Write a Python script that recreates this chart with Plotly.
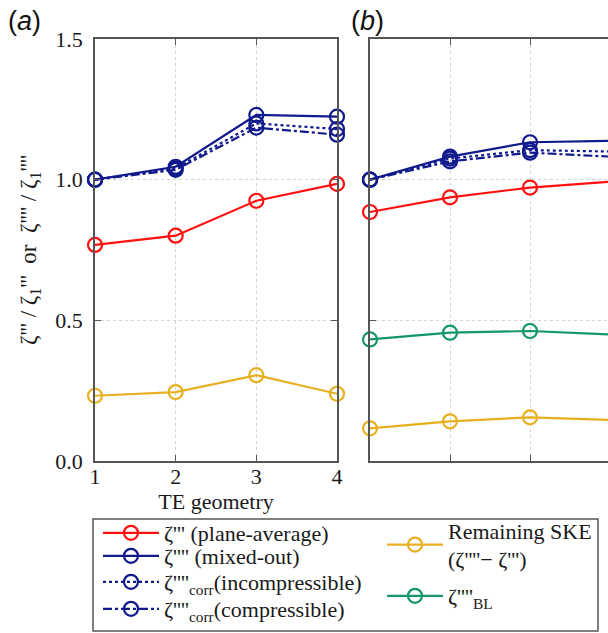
import plotly.graph_objects as go

W, H = 608, 633

geometry = [1, 2, 3, 4]
x_ticks = [1, 2, 3, 4]
y_ticks = [0.0, 0.5, 1.0, 1.5]
y_tick_text = ["0.0", "0.5", "1.0", "1.5"]

# Panel (a)
a_plane = [0.768, 0.801, 0.925, 0.985]
a_mixed = [1.000, 1.046, 1.230, 1.224]
a_incomp = [1.000, 1.040, 1.200, 1.180]
a_comp = [1.000, 1.035, 1.185, 1.160]
a_ske = [0.232, 0.245, 0.305, 0.239]

# Panel (b)
b_plane = [0.885, 0.937, 0.972, 0.993]
b_mixed = [1.000, 1.082, 1.133, 1.138]
b_incomp = [1.000, 1.075, 1.105, 1.100]
b_comp = [1.000, 1.065, 1.096, 1.082]
b_bl = [0.432, 0.456, 0.462, 0.450]
b_ske = [0.116, 0.141, 0.155, 0.146]

RED = "#ff1010"
NAVY = "#101a8c"
GOLD = "#e8b020"
GREEN = "#12966a"
AXIS = "#555555"
TEXT = "#1a1a1a"
SERIF = "Liberation Serif, Times New Roman, serif"
SANS = "Liberation Sans, Arial, sans-serif"
FS = 22

names = {
    "plane": "ζ''' (plane-average)",
    "mixed": "ζ'''' (mixed-out)",
    "incomp": "ζ''''<sub>corr</sub>(incompressible)",
    "comp": "ζ''''<sub>corr</sub>(compressible)",
    "ske": "Remaining SKE<br>(ζ''''− ζ''')",
    "bl": "ζ''''<sub>BL</sub>",
}

# each legend entry gets its own legend box: (legend id, left px, centre px)
legend_slots = {
    "plane": ("legend", 98, 533),
    "mixed": ("legend2", 98, 556),
    "incomp": ("legend3", 98, 582),
    "comp": ("legend4", 98, 609),
    "ske": ("legend5", 382, 545),
    "bl": ("legend6", 382, 596),
}


def px_x(p):
    return p / W


def px_y(p):
    return 1 - p / H


fig = go.Figure()


def add(y, color, dash, key, panel, show):
    fig.add_trace(go.Scatter(
        x=geometry, y=y, mode="lines+markers",
        name=names[key],
        line=dict(color=color, width=2.2, dash=dash),
        marker=dict(symbol="circle-open", size=14, color=color,
                    line=dict(width=2.2, color=color)),
        xaxis="x" if panel == "a" else "x2",
        yaxis="y" if panel == "a" else "y2",
        cliponaxis=False,
        showlegend=show,
        legend=legend_slots[key][0],
    ))


# panel (a)
add(a_ske, GOLD, "solid", "ske", "a", True)
add(a_plane, RED, "solid", "plane", "a", True)
add(a_comp, NAVY, "dashdot", "comp", "a", True)
add(a_incomp, NAVY, "dot", "incomp", "a", True)
add(a_mixed, NAVY, "solid", "mixed", "a", True)
# panel (b)
add(b_ske, GOLD, "solid", "ske", "b", False)
add(b_bl, GREEN, "solid", "bl", "b", True)
add(b_plane, RED, "solid", "plane", "b", False)
add(b_comp, NAVY, "dashdot", "comp", "b", False)
add(b_incomp, NAVY, "dot", "incomp", "b", False)
add(b_mixed, NAVY, "solid", "mixed", "b", False)

common_axis = dict(
    showline=True, linecolor=AXIS, linewidth=1.5,
    ticks="inside", ticklen=6, tickcolor=AXIS, tickwidth=1.2,
    showgrid=True, gridcolor="#d4d4d4", griddash="dot", gridwidth=1,
    zeroline=False, automargin=False,
    tickfont=dict(family=SERIF, size=FS, color=TEXT),
)

ydom = [px_y(461), px_y(39)]

legends = {}
for key, (lid, left, mid) in legend_slots.items():
    legends[lid] = dict(
        x=px_x(left), y=px_y(mid), xanchor="left", yanchor="middle",
        font=dict(family=SERIF, size=FS, color=TEXT),
        itemwidth=56, bgcolor="rgba(0,0,0,0)", borderwidth=0,
    )

fig.update_layout(
    width=W, height=H,
    margin=dict(l=0, r=0, t=0, b=0, autoexpand=False),
    paper_bgcolor="white", plot_bgcolor="white",
    font=dict(family=SERIF, color=TEXT),
    xaxis=dict(common_axis, domain=[px_x(95), px_x(337)], range=[1, 4],
               tickvals=x_ticks, mirror="ticks", ticklabelstandoff=-5,
               title=dict(text="TE geometry", standoff=4,
                          font=dict(family=SERIF, size=FS, color=TEXT))),
    yaxis=dict(common_axis, domain=ydom, range=[0, 1.5], tickvals=y_ticks,
               ticktext=y_tick_text, mirror="ticks", ticklabelstandoff=6,
               title=dict(text="ζ''' / ζ<sub>1</sub>'''  or  "
                               "ζ'''' / ζ<sub>1</sub>''''",
                          standoff=12,
                          font=dict(family=SERIF, size=23, color=TEXT))),
    xaxis2=dict(common_axis, domain=[px_x(370), 1], range=[1, 3.975],
                tickvals=x_ticks, showticklabels=False, mirror="ticks",
                anchor="y2"),
    yaxis2=dict(common_axis, domain=ydom, range=[0, 1.5], tickvals=y_ticks,
                showticklabels=False, mirror=False, anchor="x2"),
    shapes=[dict(type="rect", xref="paper", yref="paper",
                 x0=px_x(93), x1=px_x(598), y0=px_y(631), y1=px_y(519),
                 line=dict(color=AXIS, width=1.5))],
    annotations=[
        dict(text="(<i>a</i>)", x=px_x(6), y=px_y(21), xref="paper", yref="paper",
             xanchor="left", yanchor="middle", showarrow=False,
             font=dict(family=SANS, size=27, color="#111111")),
        dict(text="(<i>b</i>)", x=px_x(349), y=px_y(21), xref="paper", yref="paper",
             xanchor="left", yanchor="middle", showarrow=False,
             font=dict(family=SANS, size=27, color="#111111")),
    ],
    **legends,
)

fig.write_html("out.html")
